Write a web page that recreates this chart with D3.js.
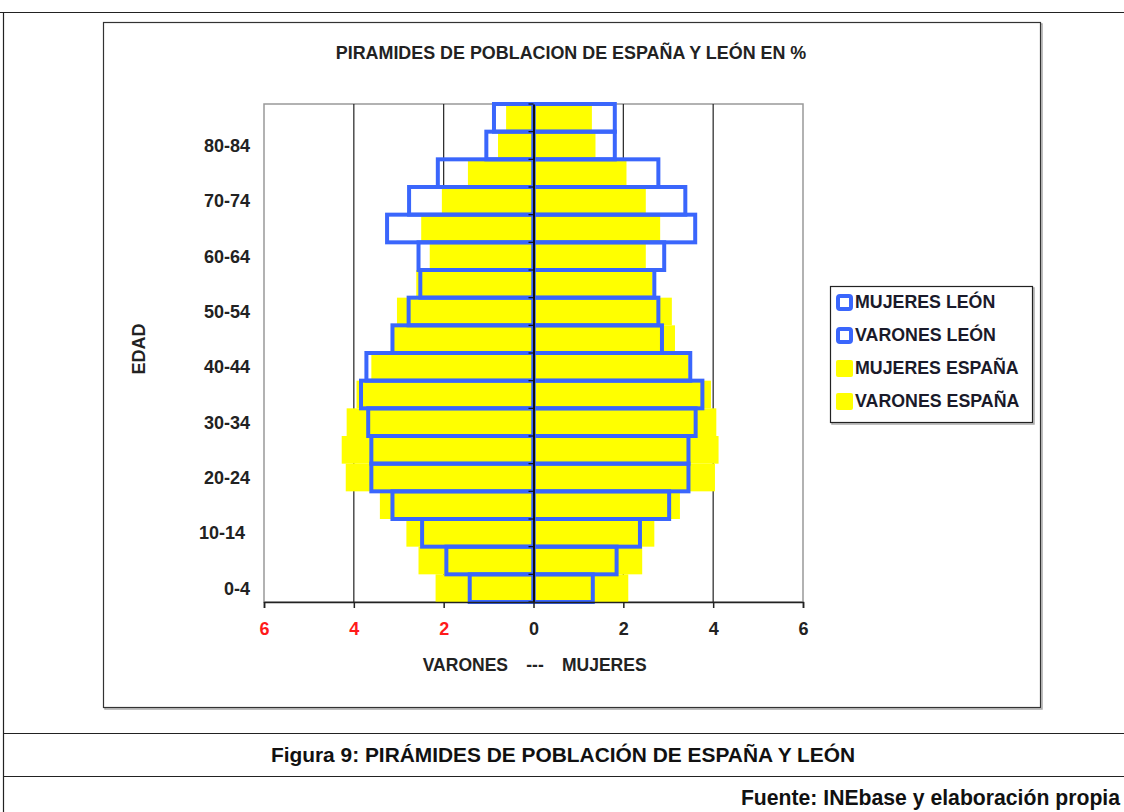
<!DOCTYPE html>
<html>
<head>
<meta charset="utf-8">
<script src="https://cdn.jsdelivr.net/npm/d3@7"></script>
<style>
  body { margin: 0; background: #fff; }
  svg { display: block; font-family: "Liberation Sans", Arial, sans-serif; }
</style>
</head>
<body>
<svg id="chart"></svg>
<script>
// Age groups, bottom to top
const ageGroups = ['0-4', '5-9', '10-14', '15-19', '20-24', '25-29', '30-34', '35-39', '40-44',
  '45-49', '50-54', '55-59', '60-64', '65-69', '70-74', '75-79', '80-84', '85+'];

// Percent of population
const varonesLeon   = [1.42, 1.94, 2.48, 3.14, 3.61, 3.61, 3.68, 3.84, 3.72, 3.14, 2.78, 2.52, 2.56, 3.26, 2.77, 2.13, 1.05, 0.88];
const varonesEspana = [2.18, 2.56, 2.83, 3.42, 4.18, 4.27, 4.16, 3.94, 3.61, 3.12, 3.04, 2.61, 2.31, 2.50, 2.04, 1.46, 0.79, 0.61];
const mujeresLeon   = [1.32, 1.85, 2.37, 3.02, 3.45, 3.45, 3.61, 3.76, 3.49, 2.86, 2.78, 2.69, 2.91, 3.60, 3.38, 2.78, 1.81, 1.81];
const mujeresEspana = [2.11, 2.42, 2.69, 3.26, 4.04, 4.12, 4.07, 3.95, 3.45, 3.15, 3.08, 2.65, 2.50, 2.82, 2.50, 2.07, 1.38, 1.30];

const xTicks = [-6, -4, -2, 0, 2, 4, 6];
const legendItems = [
  { label: 'MUJERES LEÓN', type: 'leon' },
  { label: 'VARONES LEÓN', type: 'leon' },
  { label: 'MUJERES ESPAÑA', type: 'espana' },
  { label: 'VARONES ESPAÑA', type: 'espana' },
];

const BLUE = '#3a66fc';
const YELLOW = '#ffff00';
const width = 1124, height = 812;

const svg = d3.select('#chart').attr('width', width).attr('height', height);

// Page frame
const frame = svg.append('g').attr('stroke', '#222').attr('stroke-width', 1.2);
frame.append('line').attr('x1', 0).attr('x2', width).attr('y1', 12.5).attr('y2', 12.5);
frame.append('line').attr('x1', 3.5).attr('x2', 3.5).attr('y1', 12).attr('y2', height);
frame.append('line').attr('x1', 3).attr('x2', width).attr('y1', 733.5).attr('y2', 733.5);
frame.append('line').attr('x1', 3).attr('x2', width).attr('y1', 776.5).attr('y2', 776.5);

// Chart box with a soft shadow
svg.append('rect').attr('x', 105).attr('y', 24).attr('width', 937).attr('height', 685)
  .attr('fill', 'none').attr('stroke', '#aaa').attr('stroke-width', 1.5);
svg.append('rect').attr('x', 103.5).attr('y', 22.5).attr('width', 937).attr('height', 685)
  .attr('fill', '#fff').attr('stroke', '#333').attr('stroke-width', 1.2);

svg.append('text')
  .attr('x', 571).attr('y', 59)
  .attr('text-anchor', 'middle')
  .attr('font-size', '17.9px').attr('font-weight', 'bold').attr('fill', '#222')
  .text('PIRAMIDES DE POBLACION DE ESPAÑA Y LEÓN EN %');

// Scales
const x = d3.scaleLinear().domain([-6, 6]).range([264, 803]);
const y = d3.scaleBand().domain(ageGroups).range([602, 104]).padding(0);

const rows = ageGroups.map((g, i) => ({
  group: g,
  vl: varonesLeon[i], ve: varonesEspana[i],
  ml: mujeresLeon[i], me: mujeresEspana[i],
}));

// Plot border
svg.append('rect')
  .attr('x', x(-6)).attr('y', y.range()[1])
  .attr('width', x(6) - x(-6)).attr('height', y.range()[0] - y.range()[1])
  .attr('fill', 'none').attr('stroke', '#999').attr('stroke-width', 1.5);

// Vertical gridlines
svg.append('g')
  .selectAll('line')
  .data([-4, -2, 2, 4])
  .join('line')
  .attr('x1', d => x(d)).attr('x2', d => x(d))
  .attr('y1', 104).attr('y2', 602)
  .attr('stroke', '#222').attr('stroke-width', 1.2);

// España bars (yellow)
const bars = svg.append('g');
bars.selectAll('rect.ve')
  .data(rows)
  .join('rect')
  .attr('class', 've')
  .attr('x', d => x(-d.ve)).attr('width', d => x(0) - x(-d.ve))
  .attr('y', d => y(d.group)).attr('height', y.bandwidth())
  .attr('fill', YELLOW);
bars.selectAll('rect.me')
  .data(rows)
  .join('rect')
  .attr('class', 'me')
  .attr('x', x(0)).attr('width', d => x(d.me) - x(0))
  .attr('y', d => y(d.group)).attr('height', y.bandwidth())
  .attr('fill', YELLOW);

// León bars (blue outlines)
bars.selectAll('rect.vl')
  .data(rows)
  .join('rect')
  .attr('class', 'vl')
  .attr('x', d => x(-d.vl)).attr('width', d => x(0) - x(-d.vl))
  .attr('y', d => y(d.group)).attr('height', y.bandwidth())
  .attr('fill', 'none').attr('stroke', BLUE).attr('stroke-width', 4);
bars.selectAll('rect.ml')
  .data(rows)
  .join('rect')
  .attr('class', 'ml')
  .attr('x', x(0)).attr('width', d => x(d.ml) - x(0))
  .attr('y', d => y(d.group)).attr('height', y.bandwidth())
  .attr('fill', 'none').attr('stroke', BLUE).attr('stroke-width', 4);

// Category axis at zero
const yAxis = svg.append('g')
  .attr('transform', `translate(${x(0)},0)`)
  .call(d3.axisLeft(y).tickSize(0).tickFormat(''));
yAxis.select('.domain').attr('stroke', '#111').attr('stroke-width', 2);
svg.append('g')
  .selectAll('line')
  .data(d3.range(ageGroups.length + 1))
  .join('line')
  .attr('x1', x(0) - 5).attr('x2', x(0))
  .attr('y1', i => 602 - i * y.step()).attr('y2', i => 602 - i * y.step())
  .attr('stroke', '#111').attr('stroke-width', 1.2);

// Age labels on the left
svg.append('g')
  .selectAll('text')
  .data(ageGroups.filter((g, i) => i % 2 === 0))
  .join('text')
  .attr('x', d => d === '10-14' ? 245 : 250)
  .attr('y', d => y(d) + y.bandwidth() / 2)
  .attr('dy', '0.36em')
  .attr('text-anchor', 'end')
  .attr('font-size', '18px').attr('font-weight', 'bold').attr('fill', '#222')
  .text(d => d);

svg.append('text')
  .attr('transform', 'translate(145,349) rotate(-90)')
  .attr('text-anchor', 'middle')
  .attr('font-size', '18px').attr('font-weight', 'bold').attr('fill', '#222')
  .text('EDAD');

// Bottom axis
const xAxis = svg.append('g')
  .attr('transform', 'translate(0,602)')
  .call(d3.axisBottom(x).tickValues(xTicks).tickSize(6).tickFormat(d => Math.abs(d)));
xAxis.select('.domain').attr('stroke', '#222').attr('stroke-width', 1.5);
xAxis.selectAll('.tick line').attr('stroke', '#222').attr('stroke-width', 1.5);
xAxis.selectAll('.tick text')
  .attr('y', 20)
  .attr('font-size', '18px').attr('font-weight', 'bold')
  .attr('font-family', '"Liberation Sans", Arial, sans-serif')
  .attr('fill', d => d < 0 ? '#ff1a1a' : '#222');

// Axis title: VARONES --- MUJERES
const axisTitle = svg.append('g')
  .attr('font-size', '17.5px').attr('font-weight', 'bold').attr('fill', '#222');
axisTitle.append('text').attr('x', 508).attr('y', 671).attr('text-anchor', 'end').text('VARONES');
axisTitle.append('text').attr('x', 535).attr('y', 671).attr('text-anchor', 'middle').text('---');
axisTitle.append('text').attr('x', 562).attr('y', 671).attr('text-anchor', 'start').text('MUJERES');

// Legend
const legend = svg.append('g');
legend.append('rect').attr('x', 832).attr('y', 288).attr('width', 202).attr('height', 136)
  .attr('fill', 'none').attr('stroke', '#aaa').attr('stroke-width', 1.5);
legend.append('rect').attr('x', 830.5).attr('y', 286.5).attr('width', 202).attr('height', 136)
  .attr('fill', '#fff').attr('stroke', '#222').attr('stroke-width', 1.2);
const li = legend.selectAll('g.item')
  .data(legendItems)
  .join('g')
  .attr('class', 'item')
  .attr('transform', (d, i) => `translate(836,${302 + i * 33})`);
li.append('rect')
  .attr('x', d => d.type === 'leon' ? 2 : 0)
  .attr('y', d => d.type === 'leon' ? -6 : -8)
  .attr('width', d => d.type === 'leon' ? 13 : 17)
  .attr('height', d => d.type === 'leon' ? 13 : 17)
  .attr('rx', 2)
  .attr('fill', d => d.type === 'leon' ? '#fff' : YELLOW)
  .attr('stroke', d => d.type === 'leon' ? BLUE : 'none')
  .attr('stroke-width', 4);
li.append('text')
  .attr('x', 19).attr('dy', '0.36em')
  .attr('font-size', '17.8px').attr('font-weight', 'bold').attr('fill', '#1a1a2a')
  .text(d => d.label);

// Caption and source
svg.append('text')
  .attr('x', 563).attr('y', 762)
  .attr('text-anchor', 'middle')
  .attr('font-size', '20.9px').attr('font-weight', 'bold').attr('fill', '#111')
  .text('Figura 9: PIRÁMIDES DE POBLACIÓN DE ESPAÑA Y LEÓN');
svg.append('text')
  .attr('x', 1120).attr('y', 805)
  .attr('text-anchor', 'end')
  .attr('font-size', '21.2px').attr('font-weight', 'bold').attr('fill', '#111')
  .text('Fuente: INEbase y elaboración propia');
</script>
</body>
</html>
